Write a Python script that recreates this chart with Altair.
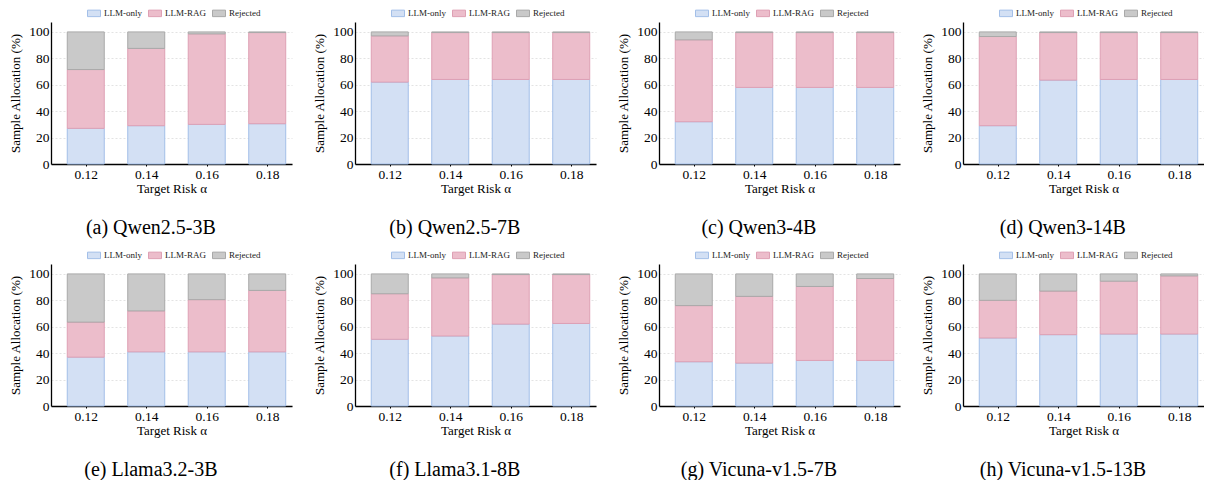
import altair as alt
import pandas as pd

alphas = [0.12, 0.14, 0.16, 0.18]
categories = ["LLM-only", "LLM-RAG", "Rejected"]
captions = ["(a) Qwen2.5-3B", "(b) Qwen2.5-7B", "(c) Qwen3-4B", "(d) Qwen3-14B",
            "(e) Llama3.2-3B", "(f) Llama3.1-8B", "(g) Vicuna-v1.5-7B", "(h) Vicuna-v1.5-13B"]

llm_only = [
    [27, 29, 30, 30.5],
    [62, 64, 64, 64],
    [32, 58, 58, 58],
    [29, 63.5, 64, 64],
    [37, 41, 41, 41],
    [50.5, 53, 62, 62.5],
    [33.5, 32.5, 34.5, 34.5],
    [51.5, 54, 54.5, 54.5],
]
llm_rag = [
    [44.5, 58.5, 68.5, 69],
    [35, 35.5, 35.5, 35.5],
    [62, 41.5, 41.5, 41.5],
    [67.5, 36, 35.5, 35.5],
    [26.5, 31, 39.5, 46.5],
    [34.5, 44, 37.5, 37],
    [42.5, 50.5, 56, 62],
    [28.5, 33, 40, 44],
]
rejected = [
    [28.5, 12.5, 1.5, 0.5],
    [3, 0.5, 0.5, 0.5],
    [6, 0.5, 0.5, 0.5],
    [3.5, 0.5, 0.5, 0.5],
    [36.5, 28, 19.5, 12.5],
    [15, 3, 0.5, 0.5],
    [24, 17, 9.5, 3.5],
    [20, 13, 5.5, 1.5],
]

fill_colors = ["#d3e0f4", "#ecbdcb", "#c9c9c9"]
stroke_colors = ["#a3bfe8", "#dea0b4", "#a9a9a9"]

FONT = "Liberation Serif"
GFONT = "Times New Roman"

legend = alt.Legend(
    title=None, orient="none", legendX=36, legendY=-16, direction="horizontal",
    symbolType="M-1,-0.5H1V0.5H-1Z", symbolSize=169, symbolStrokeWidth=1,
    labelFont=GFONT, labelFontSize=9, labelColor="#222222", labelOffset=3,
    columnPadding=4, padding=0,
)

panels = []
for i, cap in enumerate(captions):
    rows = []
    for j, a in enumerate(alphas):
        for k, (cat, series) in enumerate(zip(categories, [llm_only, llm_rag, rejected])):
            rows.append({"alpha": a, "cat": cat, "ord": k, "value": series[i][j]})
    df = pd.DataFrame(rows)
    ch = alt.Chart(df).mark_bar(size=37, orient="vertical", strokeWidth=1).encode(
        x=alt.X("alpha:Q", scale=alt.Scale(domain=[0.11016, 0.18654], nice=False, zero=False),
                axis=alt.Axis(values=alphas, format=".2f", title="Target Risk α", grid=False,
                              tickSize=2, labelPadding=1, titlePadding=2,
                              labelFont=GFONT, titleFont=GFONT)),
        y=alt.Y("value:Q", stack="zero", scale=alt.Scale(domain=[0, 107.5], nice=False),
                axis=alt.Axis(values=[0, 20, 40, 60, 80, 100], title="Sample Allocation (%)",
                              grid=True, ticks=False, labelPadding=2, titlePadding=6,
                              labelFont=GFONT, titleFont=GFONT)),
        fill=alt.Fill("cat:N", scale=alt.Scale(domain=categories, range=fill_colors), legend=legend),
        stroke=alt.Stroke("cat:N", scale=alt.Scale(domain=categories, range=stroke_colors), legend=legend),
        order=alt.Order("ord:Q", sort="ascending"),
    ).properties(
        width=241, height=142,
        title=alt.TitleParams(cap, orient="bottom", fontSize=20, font=FONT, fontWeight="normal",
                              color="black", offset=22, frame="bounds", anchor="middle"),
    )
    panels.append(ch)

chart = alt.concat(*panels, columns=4, spacing={"row": 10, "column": 21}).resolve_legend(
    fill="independent", stroke="independent"
).properties(
    padding={"left": 9, "top": 6, "right": 0, "bottom": 0},
    background="white",
).configure(
    font=GFONT
).configure_view(stroke=None).configure_axis(
    labelFont=GFONT, titleFont=GFONT, labelFontSize=13.5, titleFontSize=13,
    labelColor="black", titleColor="black", titleFontWeight="normal",
    domainColor="black", domainWidth=1.3, tickColor="black",
    gridColor="#dcdcdc", gridDash=[2, 2], gridWidth=0.8,
).configure_legend(
    labelFont=GFONT
)

chart.save("out.html", embed_options={"renderer": "svg", "actions": False})
